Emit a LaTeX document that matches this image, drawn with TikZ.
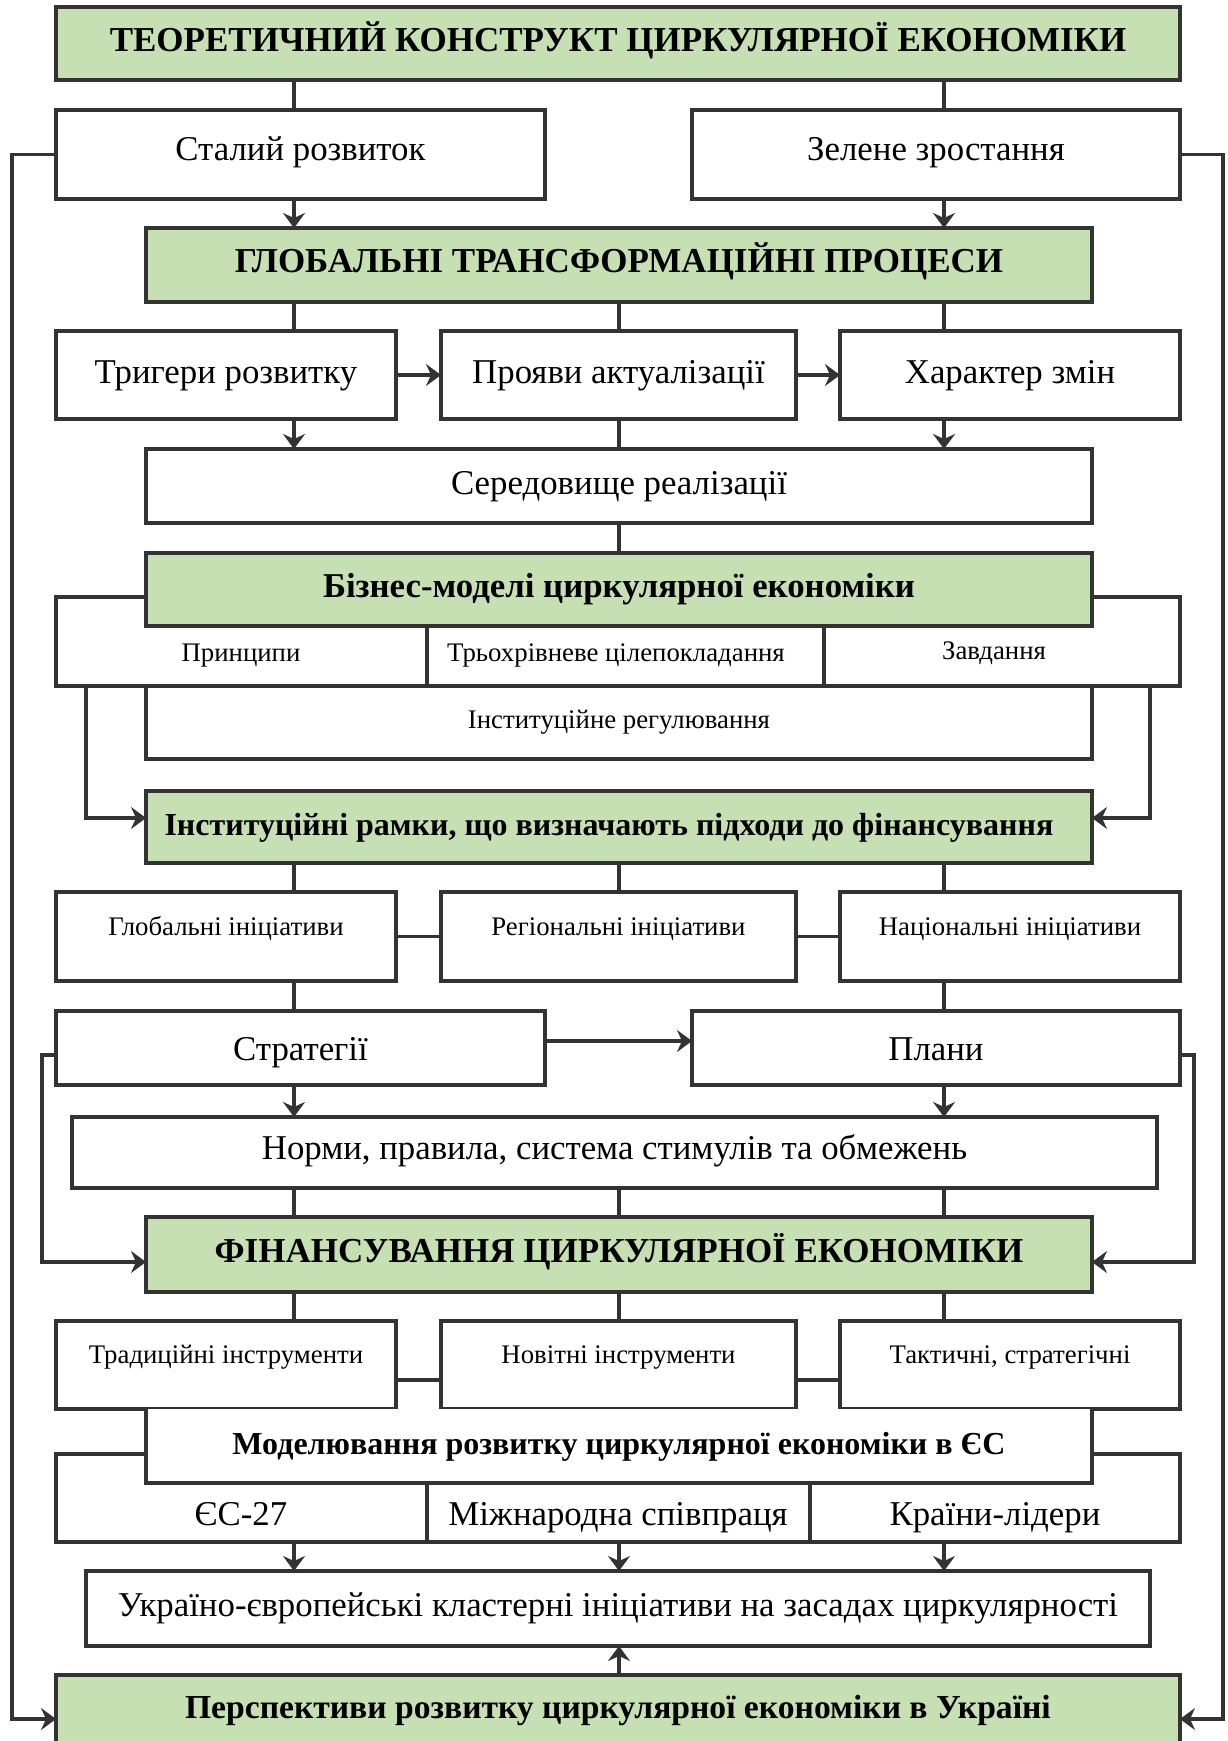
\documentclass[tikz,border=0pt]{standalone}
\usepackage{fontspec}
\setmainfont{Liberation Serif}
\usetikzlibrary{arrows.meta}

\definecolor{ln}{HTML}{333333}
\definecolor{grn}{HTML}{C6E0B4}

\tikzset{
  box/.style={draw=ln, line width=3.5pt, fill=white, rectangle, inner sep=0pt, outer sep=0pt, align=center},
  bigline/.style={text height=24pt, text depth=8pt},
  gbox/.style={box, fill=grn, bigline, font=\bfseries\fontsize{35}{42}\selectfont},
  big/.style={bigline, font=\fontsize{34.8}{42}\selectfont},
  small/.style={text height=18pt, text depth=6pt, font=\fontsize{26.8}{32}\selectfont},
  upper/.style={text height=18pt, text depth=21pt},
  txt/.style={inner sep=0pt, outer sep=0pt},
  conn/.style={draw=ln, line width=3.2pt},
  arr/.style={conn, -{Stealth[length=15pt, width=22pt, inset=5pt]}},
}

\begin{document}
\begin{tikzpicture}[x=1pt, y=-1pt]
\useasboundingbox (0,0) rectangle (1227,1741);
\clip (0,0) rectangle (1227,1741);
\fill[white] (0,0) rectangle (1227,1741);

% guide columns for connectors
\coordinate (cL) at (294,0);
\coordinate (cM) at (619,0);
\coordinate (cR) at (944,0);
\coordinate (lA) at (86,0);
\coordinate (rA) at (1150,0);
\coordinate (lB) at (42,0);
\coordinate (rB) at (1194,0);
\coordinate (lC) at (12,0);
\coordinate (rC) at (1223,0);
\coordinate (d1) at (427,0);
\coordinate (d2) at (824,0);
\coordinate (d3) at (810,0);

% ---- theoretical construct
\node[gbox, minimum width=1124pt, minimum height=73pt] (t1) at (618,43.5) {ТЕОРЕТИЧНИЙ КОНСТРУКТ ЦИРКУЛЯРНОЇ ЕКОНОМІКИ};
\node[box, big, text depth=12pt, minimum width=489pt, minimum height=89pt] (sd) at (300.5,154.5) {Сталий розвиток};
\node[box, big, text depth=12pt, minimum width=488pt, minimum height=89pt] (zg) at (936,154.5) {Зелене зростання};

% ---- global transformation processes
\node[gbox, text depth=10pt, minimum width=946pt, minimum height=74pt] (gtp) at (619,265) {ГЛОБАЛЬНІ ТРАНСФОРМАЦІЙНІ ПРОЦЕСИ};
\node[box, big, minimum width=340pt, minimum height=88pt] (trig) at (226,375) {Тригери розвитку};
\node[box, big, minimum width=355pt, minimum height=88pt] (proyav) at (618.5,375) {Прояви актуалізації};
\node[box, big, minimum width=340pt, minimum height=88pt] (khar) at (1010,375) {Характер змін};
\node[box, big, minimum width=946pt, minimum height=74pt] (sered) at (619,486) {Середовище реалізації};

% ---- business models
\node[box, minimum width=1124pt, minimum height=89pt] (row1) at (618,641.5) {};
\node[gbox, font=\bfseries\fontsize{34.8}{42}\selectfont, minimum width=946pt, minimum height=73pt] (biz) at (619,589.5) {Бізнес-моделі циркулярної економіки};
\node[txt, small] (princ) at (241,655) {Принципи};
\node[txt, small] (tryokh) at (616,655) {Трьохрівневе цілепокладання};
\node[txt, small] (zavd) at (994,653) {Завдання};
\node[box, small, minimum width=946pt, minimum height=73pt] (instreg) at (619,722.5) {Інституційне регулювання};

% ---- institutional framework
\node[gbox, font=\bfseries\fontsize{32}{38}\selectfont, minimum width=946pt, minimum height=72pt] (instram) at (619,827) {\hbox{Інституційні рамки, що визначають підходи до фінансування\kern20pt}};
\node[box, small, upper, minimum width=340pt, minimum height=89pt] (glob) at (226,936.5) {Глобальні ініціативи};
\node[box, small, upper, minimum width=355pt, minimum height=89pt] (reg) at (618.5,936.5) {Регіональні ініціативи};
\node[box, small, upper, minimum width=340pt, minimum height=89pt] (nat) at (1010,936.5) {Національні ініціативи};
\node[box, big, text height=33pt, minimum width=489pt, minimum height=74pt] (strat) at (300.5,1048) {Стратегії};
\node[box, big, text height=33pt, minimum width=488pt, minimum height=74pt] (plany) at (936,1048) {Плани};
\node[box, big, text depth=10pt, minimum width=1085pt, minimum height=71pt] (normy) at (614.5,1152.5) {Норми, правила, система стимулів та обмежень};

% ---- financing
\node[gbox, minimum width=946pt, minimum height=75pt] (fin) at (619,1254.5) {ФІНАНСУВАННЯ ЦИРКУЛЯРНОЇ ЕКОНОМІКИ};
\node[box, small, upper, minimum width=340pt, minimum height=88pt] (trad) at (226,1365) {Традиційні інструменти};
\node[box, small, upper, minimum width=355pt, minimum height=88pt] (nov) at (618.5,1365) {Новітні інструменти};
\node[box, small, upper, minimum width=340pt, minimum height=88pt] (takt) at (1010,1365) {Тактичні, стратегічні};

% ---- EU modelling
\node[box, minimum width=1124pt, minimum height=88pt] (row2) at (618,1498) {};
\node[box, draw=none, bigline, font=\bfseries\fontsize{32}{38}\selectfont, minimum width=946pt, minimum height=74pt] (model) at (619,1446) {Моделювання розвитку циркулярної економіки в ЄС};
\draw[ln, line width=3.5pt] (model.north west) -- (model.south west) -- (model.south east) -- (model.north east);
\node[txt, big] (eu) at (241,1517) {ЄС-27};
\node[txt, big] (intl) at (618,1517) {Міжнародна співпраця};
\node[txt, big] (lead) at (995,1517) {Країни-лідери};
\node[box, big, minimum width=1064pt, minimum height=75pt] (ukr) at (618,1608.5) {Україно-європейські кластерні ініціативи на засадах циркулярності};
\node[gbox, text depth=12pt, font=\bfseries\fontsize{33.6}{40}\selectfont, minimum width=1124pt, minimum height=74pt] (persp) at (618,1712) {Перспективи розвитку циркулярної економіки в Україні};

% ---- cell dividers
\draw[ln, line width=3.5pt] (biz.south -| d1) -- (row1.south -| d1);
\draw[ln, line width=3.5pt] (biz.south -| d2) -- (row1.south -| d2);
\draw[ln, line width=3.5pt] (model.south -| d1) -- (row2.south -| d1);
\draw[ln, line width=3.5pt] (model.south -| d3) -- (row2.south -| d3);

% ---- connectors
\draw[conn] (t1.south -| cL) -- (sd.north -| cL);
\draw[conn] (t1.south -| cR) -- (zg.north -| cR);
\draw[arr] (sd.south -| cL) -- (gtp.north -| cL);
\draw[arr] (zg.south -| cR) -- (gtp.north -| cR);

\draw[conn] (gtp.south -| cL) -- (trig.north -| cL);
\draw[conn] (gtp.south -| cM) -- (proyav.north -| cM);
\draw[conn] (gtp.south -| cR) -- (khar.north -| cR);
\draw[arr] (trig.east) -- (proyav.west);
\draw[arr] (proyav.east) -- (khar.west);
\draw[arr] (trig.south -| cL) -- (sered.north -| cL);
\draw[conn] (proyav.south -| cM) -- (sered.north -| cM);
\draw[arr] (khar.south -| cR) -- (sered.north -| cR);
\draw[conn] (sered.south -| cM) -- (biz.north -| cM);

\draw[arr] (row1.south -| lA) |- ([yshift=9pt]instram.west);
\draw[arr] (row1.south -| rA) |- ([yshift=9pt]instram.east);

\draw[conn] (instram.south -| cL) -- (glob.north -| cL);
\draw[conn] (instram.south -| cM) -- (reg.north -| cM);
\draw[conn] (instram.south -| cR) -- (nat.north -| cR);
\draw[conn] (glob.east) -- (reg.west);
\draw[conn] (reg.east) -- (nat.west);
\draw[conn] (glob.south -| cL) -- (strat.north -| cL);
\draw[conn] (nat.south -| cR) -- (plany.north -| cR);
\draw[arr] ([yshift=7pt]strat.east) -- ([yshift=7pt]plany.west);
\draw[arr] (strat.south -| cL) -- (normy.north -| cL);
\draw[arr] (plany.south -| cR) -- (normy.north -| cR);
\draw[arr] ([yshift=-7pt]strat.west) -- ([yshift=-7pt]strat.west -| lB) |- ([yshift=-7.5pt]fin.west);
\draw[arr] ([yshift=-7pt]plany.east) -- ([yshift=-7pt]plany.east -| rB) |- ([yshift=-7.5pt]fin.east);

\draw[conn] (normy.south -| cL) -- (fin.north -| cL);
\draw[conn] (normy.south -| cM) -- (fin.north -| cM);
\draw[conn] (normy.south -| cR) -- (fin.north -| cR);
\draw[conn] (fin.south -| cL) -- (trad.north -| cL);
\draw[conn] (fin.south -| cM) -- (nov.north -| cM);
\draw[conn] (fin.south -| cR) -- (takt.north -| cR);
\draw[conn] ([yshift=-15pt]trad.east) -- ([yshift=-15pt]nov.west);
\draw[conn] ([yshift=-15pt]nov.east) -- ([yshift=-15pt]takt.west);

\draw[arr] (row2.south -| cL) -- (ukr.north -| cL);
\draw[arr] (row2.south -| cM) -- (ukr.north -| cM);
\draw[arr] (row2.south -| cR) -- (ukr.north -| cR);
\draw[arr] (persp.north -| cM) -- (ukr.south -| cM);

\draw[arr] (sd.west) -- (sd.west -| lC) |- ([yshift=-7pt]persp.west);
\draw[arr] (zg.east) -- (zg.east -| rC) |- ([yshift=-7pt]persp.east);
\end{tikzpicture}
\end{document}
